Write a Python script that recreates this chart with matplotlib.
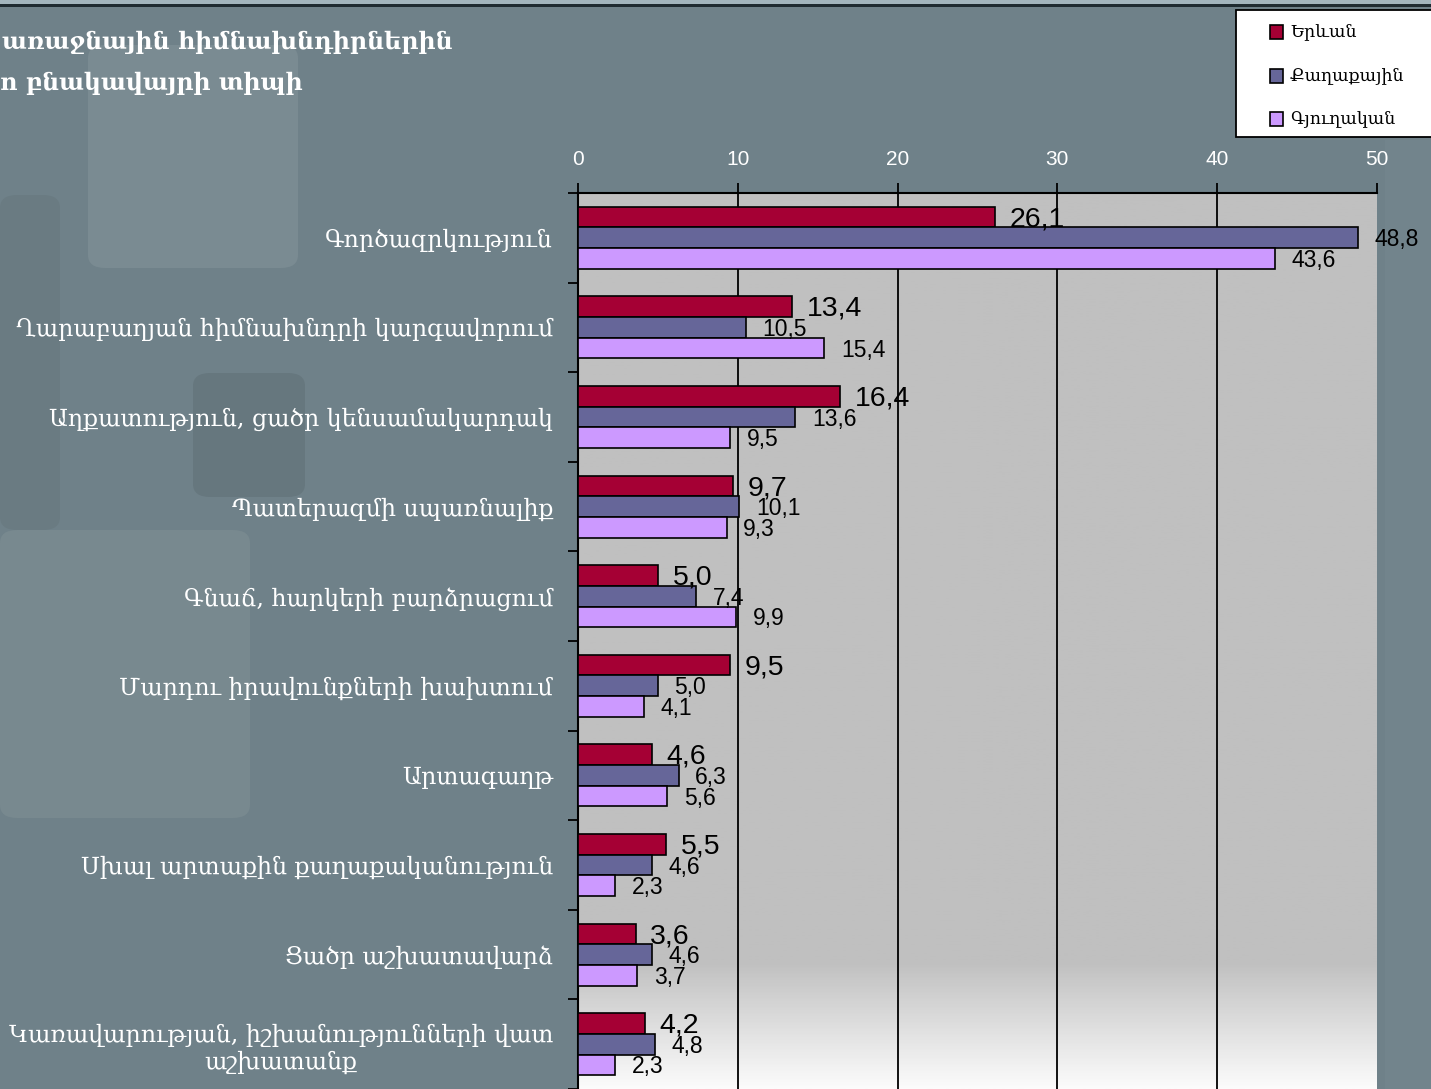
import numpy as np
import matplotlib.pyplot as plt
from matplotlib.patches import Rectangle, FancyBboxPatch

categories = ['Գործազրկություն',
              'Ղարաբաղյան հիմնախնդրի կարգավորում',
              'Աղքատություն, ցածր կենսամակարդակ',
              'Պատերազմի սպառնալիք',
              'Գնաճ, հարկերի բարձրացում',
              'Մարդու իրավունքների խախտում',
              'Արտագաղթ',
              'Սխալ արտաքին քաղաքականություն',
              'Ցածր աշխատավարձ',
              'Կառավարության, իշխանությունների վատ\nաշխատանք']
yerevan = [26.1, 13.4, 16.4, 9.7, 5.0, 9.5, 4.6, 5.5, 3.6, 4.2]
urban = [48.8, 10.5, 13.6, 10.1, 7.4, 5.0, 6.3, 4.6, 4.6, 4.8]
rural = [43.6, 15.4, 9.5, 9.3, 9.9, 4.1, 5.6, 2.3, 3.7, 2.3]
series_names = ['Երևան', 'Քաղաքային', 'Գյուղական']
title_lines = ['առաջնային հիմնախնդիրներին', 'ո բնակավայրի տիպի']
x_ticks = [0, 10, 20, 30, 40, 50]

colors = ['#a50034', '#666699', '#cc99ff']
bg = '#6f8189'

plt.rcParams['font.family'] = ['DejaVu Serif', 'DejaVu Sans']

W, H = 1431, 1089
fig = plt.figure(figsize=(W / 100, H / 100), dpi=100)
fig.patch.set_facecolor(bg)


def box(x0, y0, x1, y1):
    # pixel box -> figure coords (x, y, w, h)
    return x0 / W, 1 - y1 / H, (x1 - x0) / W, (y1 - y0) / H


# faint background shapes (behind the axes)
for (x0, y0, x1, y1), c in [((88, 45, 298, 268), '#7a8b92'),
                            ((0, 195, 60, 530), '#6a7b82'),
                            ((193, 373, 305, 497), '#66777e'),
                            ((0, 530, 250, 818), '#78898f')]:
    x, y, w, h = box(x0, y0, x1, y1)
    fig.add_artist(FancyBboxPatch((x, y), w, h, boxstyle='round,pad=0,rounding_size=0.012',
                                  transform=fig.transFigure, fc=c, ec='none', zorder=-2))
x, y, w, h = box(1385, 140, 1431, 1089)
fig.add_artist(Rectangle((x, y), w, h, transform=fig.transFigure, fc='#72848c', ec='none',
                         zorder=-2))
x, y, w, h = box(0, 0, W, 4)
fig.add_artist(Rectangle((x, y), w, h, transform=fig.transFigure, fc='#a3b5bd', ec='none',
                         zorder=-2))
x, y, w, h = box(0, 4, W, 7)
fig.add_artist(Rectangle((x, y), w, h, transform=fig.transFigure, fc='#1f2b31', ec='none',
                         zorder=-2))

ax = fig.add_axes(box(578, 193, 1377, 1089))
ax.set_facecolor('none')

# plot background: gray fading to white at the bottom
t = np.linspace(0, 1, 300)
grad = np.where(t < 0.86, 0.753, 0.753 + (t - 0.86) / 0.14 * (0.985 - 0.753))[:, None]
ax.imshow(grad, cmap='gray', vmin=0, vmax=1, extent=[0, 50, 9.5, -0.5], aspect='auto', zorder=0)

for v in x_ticks[1:-1]:
    ax.axvline(v, color='black', lw=1.3, zorder=1)

pos = np.arange(len(categories))
bh = 0.23
for k, (vals, c) in enumerate(zip([yerevan, urban, rural], colors)):
    yy = pos + (k - 1) * bh
    ax.barh(yy, vals, height=bh, color=c, edgecolor='black', lw=1.2, zorder=3)
    for v, yv in zip(vals, yy):
        ax.annotate(f'{v:.1f}'.replace('.', ','), xy=(v, yv),
                    xytext=(10.5 if k == 0 else 12, -1.5), textcoords='offset points',
                    ha='left', va='center', fontsize=20.5 if k == 0 else 16.5,
                    family='Liberation Sans', color='black', zorder=4,
                    annotation_clip=False)

ax.set_xlim(0, 50)
ax.set_ylim(9.5, -0.5)
ax.xaxis.tick_top()
ax.set_xticks(x_ticks)
ax.set_xticklabels([str(v) for v in x_ticks], family='Liberation Sans')
ax.tick_params(axis='x', length=7, width=1.3, pad=10, labelcolor='white', labelsize=15)

ax.set_yticks(pos)
ax.set_yticklabels(categories, fontsize=17, color='white')
for lbl in ax.get_yticklabels():
    lbl.set_multialignment('center')
ax.tick_params(axis='y', which='major', length=0, pad=18)
ax.set_yticks(np.arange(-0.5, 10, 1), minor=True)
ax.tick_params(axis='y', which='minor', length=7, width=1.3, color='black')

for s in ['right', 'bottom']:
    ax.spines[s].set_visible(False)
for s in ['top', 'left']:
    ax.spines[s].set_linewidth(1.5)
    ax.spines[s].set_color('black')

# title (cut at the left edge in the original slide)
fig.text(2 / W, 1 - 42 / H, title_lines[0], fontsize=17, weight='bold', color='white',
         ha='left', va='center')
fig.text(0 / W, 1 - 83 / H, title_lines[1], fontsize=17, weight='bold', color='white',
         ha='left', va='center')

# legend box
x, y, w, h = box(1236, 10, 1445, 137)
fig.add_artist(Rectangle((x, y), w, h, transform=fig.transFigure, fc='white', ec='black',
                         lw=1.3, zorder=5))
for name, c, yc in zip(series_names, colors, [32, 76, 119]):
    x, y, w, h = box(1270, yc - 6.5, 1283, yc + 6.5)
    fig.add_artist(Rectangle((x, y), w, h, transform=fig.transFigure, fc=c, ec='black',
                             lw=1.2, zorder=6))
    fig.text(1290 / W, 1 - yc / H, name, fontsize=12.5, color='black', ha='left',
             va='center', zorder=6)

fig.savefig('out.png', dpi=100, facecolor=fig.get_facecolor())
